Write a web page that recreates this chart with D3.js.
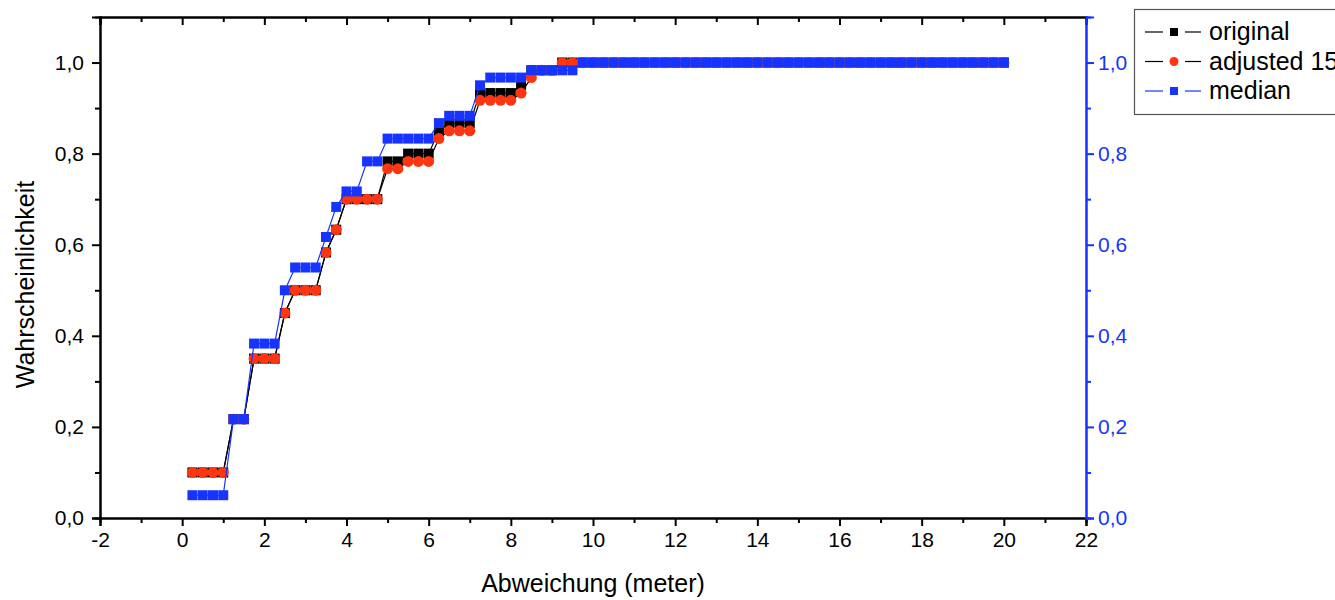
<!DOCTYPE html>
<html>
<head>
<meta charset="utf-8">
<script src="https://cdn.jsdelivr.net/npm/d3@7"></script>
<style>
  body { margin: 0; background: #fff; }
  svg { display: block; font-family: "Liberation Sans", Arial, sans-serif; }
</style>
</head>
<body>
<svg width="1335" height="600"></svg>
<script>
// Abweichung (meter)
var xVals = [0.25, 0.5, 0.75, 1.0, 1.25, 1.5, 1.75, 2.0, 2.25, 2.5,
  2.75, 3.0, 3.25, 3.5, 3.75, 4.0, 4.25, 4.5, 4.75, 5.0,
  5.25, 5.5, 5.75, 6.0, 6.25, 6.5, 6.75, 7.0, 7.25, 7.5,
  7.75, 8.0, 8.25, 8.5, 8.75, 9.0, 9.25, 9.5, 9.75, 10.0,
  10.25, 10.5, 10.75, 11.0, 11.25, 11.5, 11.75, 12.0, 12.25, 12.5,
  12.75, 13.0, 13.25, 13.5, 13.75, 14.0, 14.25, 14.5, 14.75, 15.0,
  15.25, 15.5, 15.75, 16.0, 16.25, 16.5, 16.75, 17.0, 17.25, 17.5,
  17.75, 18.0, 18.25, 18.5, 18.75, 19.0, 19.25, 19.5, 19.75, 20.0];

var original = [0.1, 0.1, 0.1, 0.1, 0.217, 0.217, 0.35, 0.35, 0.35, 0.45,
  0.5, 0.5, 0.5, 0.583, 0.633, 0.7, 0.7, 0.7, 0.7, 0.783,
  0.783, 0.8, 0.8, 0.8, 0.85, 0.867, 0.867, 0.867, 0.933, 0.933,
  0.933, 0.933, 0.95, 0.983, 0.983, 0.983, 1, 1, 1, 1,
  1, 1, 1, 1, 1, 1, 1, 1, 1, 1,
  1, 1, 1, 1, 1, 1, 1, 1, 1, 1,
  1, 1, 1, 1, 1, 1, 1, 1, 1, 1,
  1, 1, 1, 1, 1, 1, 1, 1, 1, 1];

var adjusted = [0.1, 0.1, 0.1, 0.1, 0.217, 0.217, 0.35, 0.35, 0.35, 0.45,
  0.5, 0.5, 0.5, 0.583, 0.633, 0.7, 0.7, 0.7, 0.7, 0.767,
  0.767, 0.783, 0.783, 0.783, 0.833, 0.85, 0.85, 0.85, 0.917, 0.917,
  0.917, 0.917, 0.933, 0.967, 0.983, 0.983, 1, 1, 1, 1,
  1, 1, 1, 1, 1, 1, 1, 1, 1, 1,
  1, 1, 1, 1, 1, 1, 1, 1, 1, 1,
  1, 1, 1, 1, 1, 1, 1, 1, 1, 1,
  1, 1, 1, 1, 1, 1, 1, 1, 1, 1];

var median = [0.05, 0.05, 0.05, 0.05, 0.217, 0.217, 0.383, 0.383, 0.383, 0.5,
  0.55, 0.55, 0.55, 0.617, 0.683, 0.717, 0.717, 0.783, 0.783, 0.833,
  0.833, 0.833, 0.833, 0.833, 0.867, 0.883, 0.883, 0.883, 0.95, 0.967,
  0.967, 0.967, 0.967, 0.983, 0.983, 0.983, 0.983, 0.983, 1, 1,
  1, 1, 1, 1, 1, 1, 1, 1, 1, 1,
  1, 1, 1, 1, 1, 1, 1, 1, 1, 1,
  1, 1, 1, 1, 1, 1, 1, 1, 1, 1,
  1, 1, 1, 1, 1, 1, 1, 1, 1, 1];

var xTicks = [-2, 0, 2, 4, 6, 8, 10, 12, 14, 16, 18, 20, 22];
var xMinor = [-1, 1, 3, 5, 7, 9, 11, 13, 15, 17, 19, 21];
var yTicks = [0, 0.2, 0.4, 0.6, 0.8, 1.0];
var yMinor = [0.1, 0.3, 0.5, 0.7, 0.9];
var legendNames = ['original', 'adjusted 15', 'median'];

var blue = '#1633ff';
var red = '#ff3512';

var svg = d3.select('svg');
var pLeft = 100, pRight = 1086, pTop = 17, pBottom = 518;

var x = d3.scaleLinear().domain([-2, 22]).range([pLeft, pRight]);
var y = d3.scaleLinear().domain([0, 1.1]).range([pBottom, pTop]);

var de = d3.formatLocale({decimal: ',', thousands: '.', grouping: [3], currency: ['', '€'], minus: '-'});
var fmt = de.format('.1f');
var fmtX = de.format('d');

// axes
function styleAxis(g, col) {
  g.select('.domain').attr('stroke', col).attr('stroke-width', 2);
  g.selectAll('.tick line').attr('stroke', col).attr('stroke-width', 2);
  g.selectAll('.tick text').attr('fill', col).style('font-size', '21px')
    .style('font-family', '"Liberation Sans", Arial, sans-serif');
}

var gb = svg.append('g').attr('transform', 'translate(0,' + pBottom + ')')
  .call(d3.axisBottom(x).tickValues(xTicks).tickSize(8).tickPadding(6).tickFormat(fmtX));
styleAxis(gb, '#000');
var gbm = svg.append('g').attr('transform', 'translate(0,' + pBottom + ')')
  .call(d3.axisBottom(x).tickValues(xMinor).tickSize(5).tickFormat(''));
styleAxis(gbm, '#000');

var gt = svg.append('g').attr('transform', 'translate(0,' + pTop + ')')
  .call(d3.axisTop(x).tickValues(xTicks).tickSize(-8).tickFormat(''));
styleAxis(gt, '#000');
var gtm = svg.append('g').attr('transform', 'translate(0,' + pTop + ')')
  .call(d3.axisTop(x).tickValues(xMinor).tickSize(-5).tickFormat(''));
styleAxis(gtm, '#000');

var gl = svg.append('g').attr('transform', 'translate(' + pLeft + ',0)')
  .call(d3.axisLeft(y).tickValues(yTicks).tickSize(8).tickPadding(8).tickFormat(fmt));
styleAxis(gl, '#000');
var glm = svg.append('g').attr('transform', 'translate(' + pLeft + ',0)')
  .call(d3.axisLeft(y).tickValues(yMinor).tickSize(5).tickFormat(''));
styleAxis(glm, '#000');

var gr = svg.append('g').attr('transform', 'translate(' + pRight + ',0)')
  .call(d3.axisRight(y).tickValues(yTicks).tickSize(8).tickPadding(4).tickFormat(fmt));
styleAxis(gr, blue);
var grm = svg.append('g').attr('transform', 'translate(' + pRight + ',0)')
  .call(d3.axisRight(y).tickValues(yMinor).tickSize(5).tickFormat(''));
styleAxis(grm, blue);

// axis titles
svg.append('text').attr('x', (pLeft + pRight) / 2).attr('y', 592)
  .attr('text-anchor', 'middle').style('font-size', '25px').text('Abweichung (meter)');
svg.append('text').attr('transform', 'translate(34,' + ((pTop + pBottom) / 2 + 17) + ') rotate(-90)')
  .attr('text-anchor', 'middle').style('font-size', '25px').text('Wahrscheinlichkeit');

// series
var series = [
  {vals: original, line: '#000', fill: '#000', shape: 'square'},
  {vals: adjusted, line: '#000', fill: red, shape: 'circle'},
  {vals: median, line: blue, fill: blue, shape: 'square'}
];

var lineGen = d3.line().x(function(d) { return x(d[0]); }).y(function(d) { return y(d[1]); });

series.forEach(function(s) {
  var pts = xVals.map(function(v, i) { return [v, s.vals[i]]; });
  svg.append('path').datum(pts).attr('d', lineGen)
    .attr('fill', 'none').attr('stroke', s.line).attr('stroke-width', 1.2);
  var g = svg.append('g');
  if (s.shape === 'square') {
    g.selectAll('rect').data(pts).enter().append('rect')
      .attr('x', function(d) { return x(d[0]) - 5; })
      .attr('y', function(d) { return y(d[1]) - 5; })
      .attr('width', 10).attr('height', 10)
      .attr('fill', s.fill);
  } else {
    g.selectAll('circle').data(pts).enter().append('circle')
      .attr('cx', function(d) { return x(d[0]); })
      .attr('cy', function(d) { return y(d[1]); })
      .attr('r', 5.5)
      .attr('fill', s.fill);
  }
});

// legend
var lg = svg.append('g');
lg.append('rect').attr('x', 1134.5).attr('y', 9.5).attr('width', 240).attr('height', 105)
  .attr('fill', '#fff').attr('stroke', '#555').attr('stroke-width', 1.2);
legendNames.forEach(function(name, i) {
  var s = series[i];
  var cy = 32 + i * 29.5;
  lg.append('line').attr('x1', 1145).attr('x2', 1163).attr('y1', cy).attr('y2', cy)
    .attr('stroke', s.line).attr('stroke-width', 1.2);
  lg.append('line').attr('x1', 1185).attr('x2', 1201).attr('y1', cy).attr('y2', cy)
    .attr('stroke', s.line).attr('stroke-width', 1.2);
  if (s.shape === 'square') {
    lg.append('rect').attr('x', 1170).attr('y', cy - 4).attr('width', 8).attr('height', 8).attr('fill', s.fill);
  } else {
    lg.append('circle').attr('cx', 1174).attr('cy', cy).attr('r', 4.5).attr('fill', s.fill);
  }
  lg.append('text').attr('x', 1209).attr('y', cy + 8).style('font-size', '25px').text(name);
});
</script>
</body>
</html>
